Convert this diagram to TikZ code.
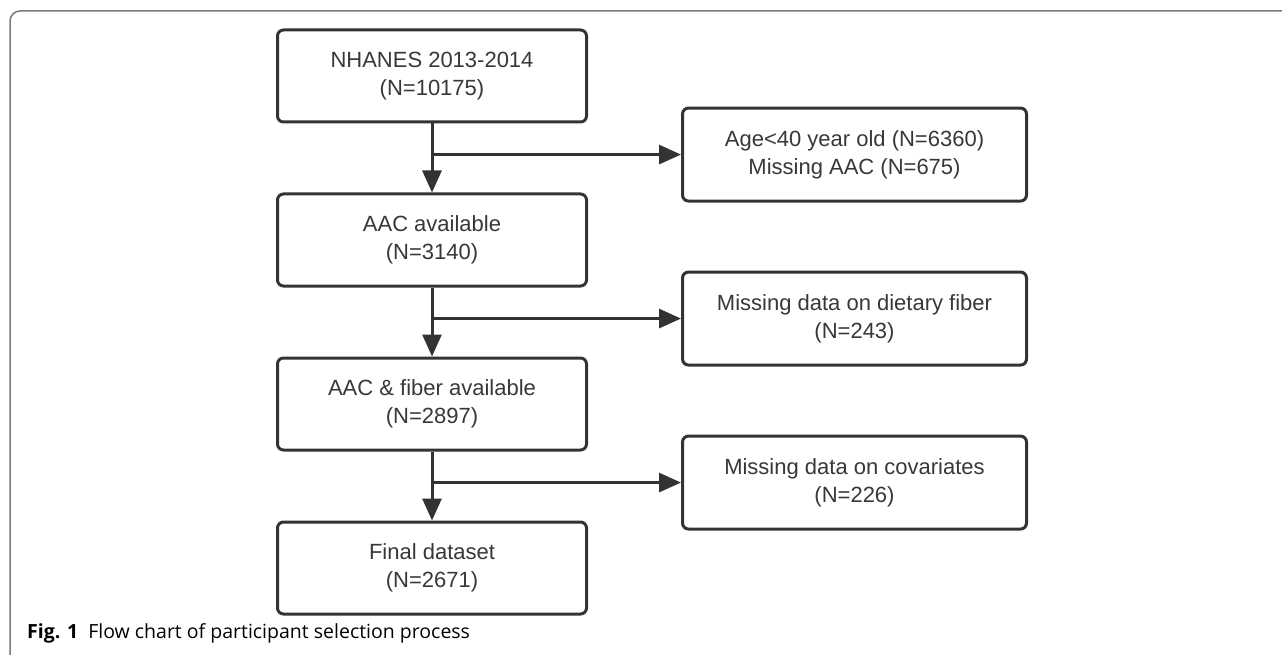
\documentclass[tikz,border=0pt]{standalone}
\usepackage{fontspec}
\setmainfont{Liberation Sans}
\newfontfamily\capfont{Open Sans}
\usetikzlibrary{arrows.meta,positioning,calc}
\definecolor{flowline}{HTML}{333333}
\definecolor{flowtext}{HTML}{383838}
\definecolor{framegray}{HTML}{7A7A7A}

\begin{document}
\begin{tikzpicture}[x=1pt, y=1pt,
  mainbox/.style={draw=flowline, line width=3pt, rounded corners=6pt, fill=white, minimum width=309pt, minimum height=92pt, align=center, text=flowtext, font=\fontsize{22}{28}\selectfont},
  exbox/.style={mainbox, minimum width=344pt, minimum height=93pt},
  arrow/.style={-{Triangle[length=22pt, width=19pt]}, line width=3pt, draw=flowline}
]
\useasboundingbox (0,0) rectangle (1282,-655);
% outer figure frame
\draw[framegray, line width=1.5pt, rounded corners=10pt] (10,-700) -- (10,-11) -- (1320,-11);

\node[mainbox] (m1) at (432,-76) {NHANES 2013-2014\\(N=10175)};
\node[mainbox, below=69pt of m1] (m2) {AAC available\\(N=3140)};
\node[mainbox, below=69pt of m2] (m3) {AAC \& fiber available\\(N=2897)};
\node[mainbox, below=69pt of m3] (m4) {Final dataset\\(N=2671)};

\coordinate (b1) at ($(m1.south)!0.45!(m2.north)$);
\coordinate (b2) at ($(m2.south)!0.45!(m3.north)$);
\coordinate (b3) at ($(m3.south)!0.45!(m4.north)$);

\node[exbox, right=249pt of b1] (e1) {Age<40 year old (N=6360)\\Missing AAC (N=675)};
\node[exbox, right=249pt of b2] (e2) {Missing data on dietary fiber\\(N=243)};
\node[exbox, right=249pt of b3] (e3) {Missing data on covariates\\(N=226)};

\foreach \a/\b in {m1/m2,m2/m3,m3/m4}
  \draw[arrow] (\a) -- (\b);
\foreach \a/\b in {b1/e1,b2/e2,b3/e3}
  \draw[arrow] (\a) -- (\b);

\node[anchor=base west, inner sep=0pt, font=\capfont\fontsize{19.5}{24}\selectfont] (cap) at (27,-638) {\textbf{Fig. 1}\hspace{10pt}Flow chart of participant selection process};
\end{tikzpicture}
\end{document}
